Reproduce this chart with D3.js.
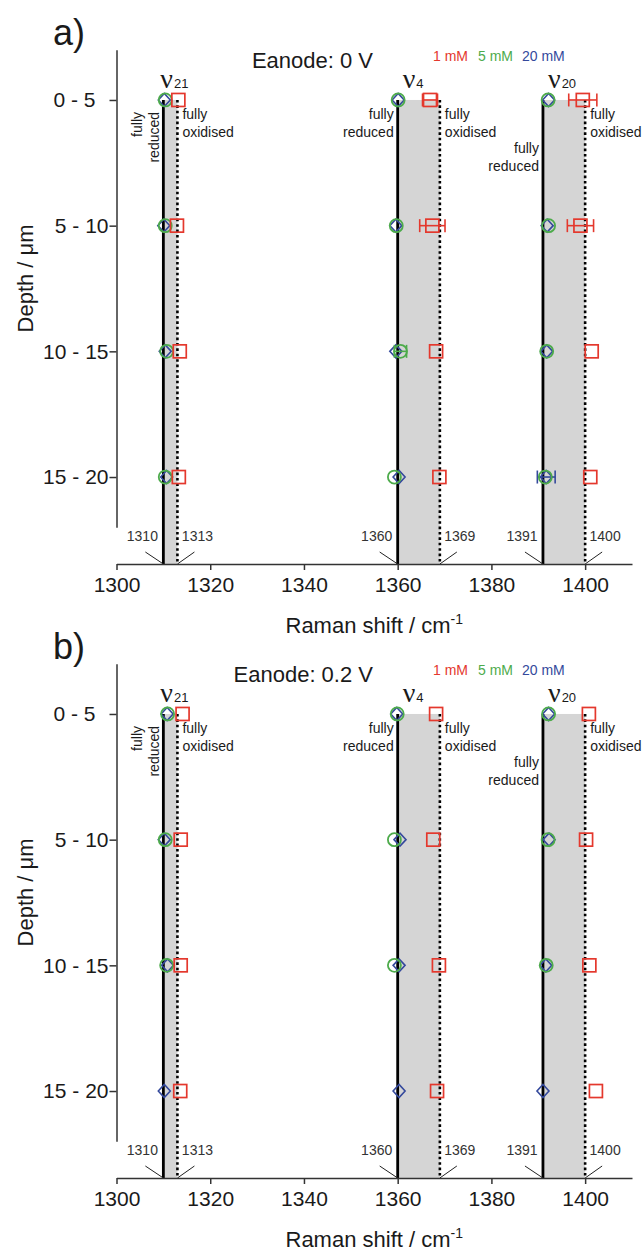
<!DOCTYPE html>
<html><head><meta charset="utf-8">
<script src="https://cdn.jsdelivr.net/npm/d3@7"></script>
<style>
body{margin:0;background:#fff}
svg{display:block}
text{font-family:"Liberation Sans",Arial,sans-serif;fill:#1a1a1a}
</style>
</head><body>
<svg id="chart" width="642" height="1254"></svg>
<script>
// ---------- data ----------
const depthLabels = ["0 - 5", "5 - 10", "10 - 15", "15 - 20"];
const xTicks = [1300, 1320, 1340, 1360, 1380, 1400];
const modeSubs = ["21", "4", "20"];
const reducedRef = [1310, 1360, 1391];
const oxidisedRef = [1313, 1369, 1400];
const concLabels = ["1 mM", "5 mM", "20 mM"];
const panelLabels = ["a)", "b)"];
const potentials = ["0 V", "0.2 V"];

// values [depth row][mode: v21, v4, v20]
const a1mM    = [[1313.2,1366.9,1399.5],[1312.9,1367.4,1399.0],[1313.5,1368.2,1401.4],[1313.3,1368.9,1401.1]];
const a1mMErr = [[0,1.6,3.0],[0,2.7,2.8],[0,0,0],[0,0,0]];
const a5mM    = [[1310.4,1360.1,1392.1],[1310.4,1359.7,1392.2],[1310.7,1360.6,1391.8],[1310.4,1359.3,1391.5]];
const a5mMErr = [[0,0,0],[0,0,0],[0,1.3,0],[0,0,0]];
const a20mM   = [[1310.2,1360.1,1392.2],[1310.1,1359.6,1391.9],[1310.4,1359.6,1391.8],[1310.7,1360.3,1391.7]];
const a20mMErr= [[0,0,0],[0,0,0],[0,0,0],[0,0,1.9]];

const b1mM    = [[1314.1,1368.2,1400.8],[1313.7,1367.6,1400.2],[1313.7,1368.8,1400.9],[1313.6,1368.4,1402.3]];
const b1mMErr = [[0,0,0],[0,0,0],[0,0,0],[0,0,0]];
const b5mM    = [[1310.9,1359.9,1392.2],[1310.4,1359.3,1392.1],[1310.7,1359.3,1391.7],[null,null,null]];
const b5mMErr = [[0,0,0],[0,0,0],[0,0,0],[0,0,0]];
const b20mM   = [[1310.8,1359.8,1392.2],[1310.2,1360.5,1392.3],[1310.9,1360.3,1391.6],[1310.2,1360.3,1391.0]];
const b20mMErr= [[0,0,0],[0,0,0],[0,0,0],[0,0,0]];

// ---------- drawing ----------
const colors = ["#e4382d", "#4dab4b", "#34499c"];
const svg = d3.select("#chart");
const x = d3.scaleLinear().domain([1300, 1410]).range([116.5, 632]);
const y = d3.scaleLinear().domain([-0.4, 3.4]).range([49.7, 527.3]);
const axisY = 564;
const panelOffsets = [0, 614];

const panels = [
  {vals:[a1mM,a5mM,a20mM], errs:[a1mMErr,a5mMErr,a20mMErr]},
  {vals:[b1mM,b5mM,b20mM], errs:[b1mMErr,b5mMErr,b20mMErr]}
];

panels.forEach((p, pi) => {
  const g = svg.append("g").attr("transform", `translate(0,${panelOffsets[pi]})`);

  // panel label
  g.append("text").attr("x", 53).attr("y", 45).attr("font-size", 36).text(panelLabels[pi]);
  // title
  g.append("text").attr("x", 373).attr("y", 68).attr("text-anchor", "end")
    .attr("font-size", 22).text("Eanode: " + potentials[pi]);
  // legend
  const legX = [433, 478, 522];
  concLabels.forEach((c, i) => {
    g.append("text").attr("x", legX[i]).attr("y", 61).attr("font-size", 14)
      .style("fill", colors[i]).text(c);
  });

  // shaded bands
  g.selectAll("rect.band").data(reducedRef).join("rect").attr("class", "band")
    .attr("x", (d, i) => x(d)).attr("width", (d, i) => x(oxidisedRef[i]) - x(d))
    .attr("y", y(0)).attr("height", axisY - y(0)).attr("fill", "#d5d5d5");
  // reduced lines
  g.selectAll("line.red").data(reducedRef).join("line").attr("class", "red")
    .attr("x1", d => x(d)).attr("x2", d => x(d)).attr("y1", y(0)).attr("y2", axisY)
    .attr("stroke", "#000").attr("stroke-width", 2.8);
  // oxidised lines
  g.selectAll("line.ox").data(oxidisedRef).join("line").attr("class", "ox")
    .attr("x1", d => x(d)).attr("x2", d => x(d)).attr("y1", y(0)).attr("y2", axisY)
    .attr("stroke", "#000").attr("stroke-width", 2.6).attr("stroke-dasharray", "2.6 2.8");

  // leader lines + numeric labels
  reducedRef.forEach(v => {
    g.append("line").attr("x1", x(v)).attr("y1", axisY).attr("x2", x(v) - 18).attr("y2", axisY - 12)
      .attr("stroke", "#222").attr("stroke-width", 1);
    g.append("text").attr("x", x(v) - 21).attr("y", axisY - 23).attr("text-anchor", "middle")
      .attr("font-size", 14).style("fill", "#333").text(v);
  });
  oxidisedRef.forEach(v => {
    g.append("line").attr("x1", x(v)).attr("y1", axisY).attr("x2", x(v) + 17).attr("y2", axisY - 12)
      .attr("stroke", "#222").attr("stroke-width", 1);
    g.append("text").attr("x", x(v) + 20).attr("y", axisY - 23).attr("text-anchor", "middle")
      .attr("font-size", 14).style("fill", "#333").text(v);
  });

  // nu labels
  const nuOff = [-3, 5, 5];
  reducedRef.forEach((v, i) => {
    const t = g.append("text").attr("x", x(v) + nuOff[i]).attr("y", y(0) - 12);
    t.append("tspan").attr("font-family", "'Liberation Serif','DejaVu Serif',serif").attr("font-size", 28).text("ν");
    t.append("tspan").attr("font-size", 13).attr("dx", 1).text(modeSubs[i]);
  });

  // fully reduced / oxidised annotations
  const fs = 14;
  // v21 reduced (rotated)
  [["fully", -21.5], ["reduced", -4]].forEach(([s, dx]) => {
    g.append("text").attr("transform", `translate(${x(1310) + dx},${y(0) + 12}) rotate(-90)`)
      .attr("text-anchor", "end").attr("font-size", fs).text(s);
  });
  // oxidised labels
  oxidisedRef.forEach(v => {
    g.append("text").attr("x", x(v) + 5).attr("y", y(0) + 19).attr("font-size", fs).text("fully");
    g.append("text").attr("x", x(v) + 5).attr("y", y(0) + 37).attr("font-size", fs).text("oxidised");
  });
  // v4 reduced
  g.append("text").attr("x", x(1360) - 4).attr("y", y(0) + 19).attr("text-anchor", "end").attr("font-size", fs).text("fully");
  g.append("text").attr("x", x(1360) - 4).attr("y", y(0) + 37).attr("text-anchor", "end").attr("font-size", fs).text("reduced");
  // v20 reduced
  g.append("text").attr("x", x(1391) - 4).attr("y", y(0) + 53).attr("text-anchor", "end").attr("font-size", fs).text("fully");
  g.append("text").attr("x", x(1391) - 4).attr("y", y(0) + 71).attr("text-anchor", "end").attr("font-size", fs).text("reduced");

  // axes
  const xa = g.append("g").attr("transform", `translate(0,${axisY})`)
    .call(d3.axisBottom(x).tickValues(xTicks).tickFormat(d3.format("d")).tickSize(6).tickSizeOuter(0).tickPadding(7));
  xa.selectAll("text").attr("font-size", 21).style("fill", "#1a1a1a");
  xa.selectAll("path,line").attr("stroke", "#333").attr("stroke-width", 1.5);
  xa.attr("font-family", null);

  const ya = g.append("g").attr("transform", `translate(${x(1300)},0)`)
    .call(d3.axisLeft(y).tickValues([0, 1, 2, 3]).tickFormat(i => depthLabels[i]).tickSize(7).tickSizeOuter(0).tickPadding(1));
  ya.selectAll("text").attr("font-size", 21).style("fill", "#1a1a1a");
  ya.selectAll("text").filter(d => d === 0).attr("dx", -13);
  ya.selectAll("path,line").attr("stroke", "#333").attr("stroke-width", 1.5);
  ya.attr("font-family", null);

  // axis titles
  const xt = g.append("text").attr("x", (x(1300) + x(1410)) / 2).attr("y", 633).attr("text-anchor", "middle").attr("font-size", 22);
  xt.append("tspan").text("Raman shift / cm");
  xt.append("tspan").attr("font-size", 14).attr("dy", -9).text("-1");
  g.append("text").attr("transform", `translate(25,${y(1.42)}) rotate(-90)`).attr("text-anchor", "middle")
    .attr("dy", "0.35em").attr("font-size", 22).text("Depth / μm");

  // markers
  const markers = g.append("g");
  [2, 1, 0].forEach(ci => {
    const vals = p.vals[ci], errs = p.errs[ci];
    vals.forEach((row, ri) => {
      row.forEach((v, mi) => {
        if (v === null) return;
        const cx = x(v), cy = y(ri), e = errs[ri][mi];
        const col = colors[ci];
        if (e > 0) {
          markers.append("line").attr("x1", x(v - e)).attr("x2", x(v + e)).attr("y1", cy).attr("y2", cy)
            .attr("stroke", col).attr("stroke-width", 1.6);
          [v - e, v + e].forEach(ev => {
            markers.append("line").attr("x1", x(ev)).attr("x2", x(ev)).attr("y1", cy - 6.5).attr("y2", cy + 6.5)
              .attr("stroke", col).attr("stroke-width", 1.6);
          });
        }
        if (ci === 0) {
          markers.append("rect").attr("x", cx - 6.5).attr("y", cy - 6.5).attr("width", 13).attr("height", 13)
            .attr("fill", "none").attr("stroke", col).attr("stroke-width", 1.7);
        } else if (ci === 1) {
          markers.append("circle").attr("cx", cx).attr("cy", cy).attr("r", 6.5)
            .attr("fill", "none").attr("stroke", col).attr("stroke-width", 1.8);
        } else {
          markers.append("path").attr("d", `M${cx - 6},${cy} L${cx},${cy - 6.5} L${cx + 6},${cy} L${cx},${cy + 6.5} Z`)
            .attr("fill", "none").attr("stroke", col).attr("stroke-width", 1.6);
        }
      });
    });
  });
});
</script>
</body></html>
